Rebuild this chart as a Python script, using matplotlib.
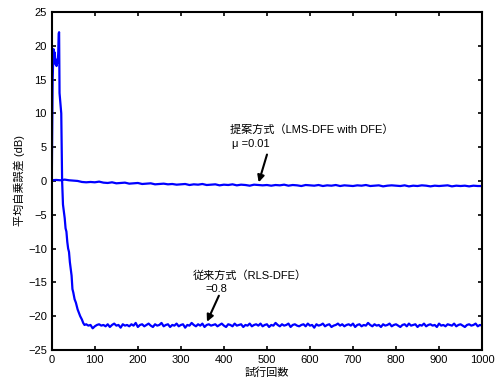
import numpy as np
import matplotlib
matplotlib.use('Agg')
from matplotlib import pyplot as plt

plt.rcParams['font.family'] = ['Liberation Sans', 'Noto Sans CJK JP']
plt.rcParams['font.size'] = 8

# RLS-DFE (conventional) - start transient
rls_x_head = [0, 1, 2, 3, 4, 5, 6, 7, 8, 9, 10, 11, 12, 13, 14, 15, 16, 17, 18, 20,
              22, 23, 24, 26, 28, 30, 32, 34, 36, 38, 40, 42, 44, 46, 48, 50, 53, 56,
              60, 63, 66, 70, 73, 76]
rls_y_head = [0, 8, 15, 17.5, 19.5, 18.5, 17.5, 19.0, 17.8, 17.2, 17.5, 17.0, 17.3, 18,
              17.5, 19, 21.8, 22, 13, 11.5, 10, 5, 0, -3.5, -4.5, -5.5, -7, -7.5, -9,
              -10, -10.5, -12, -13, -14, -16, -16.5, -17.5, -18, -19, -19.5, -20, -20.5,
              -21, -21.3]
# RLS-DFE steady state, trials 80..1000 every 5
rls_y_tail = [
    -21.2, -21.4, -21.3, -21.8, -21.5, -21.3, -21.2, -21.4, -21.3, -21.5, -21.2, -21.6, -21.3, -21.1, -21.4, -21.3, -21.7, -21.2, -21.4, -21.3,
    -21.5, -21.2, -21.4, -21.0, -21.6, -21.3, -21.2, -21.5, -21.3, -21.1, -21.4, -21.6, -21.2, -21.4, -21.3, -21.0, -21.5, -21.3, -21.2, -21.6,
    -21.3, -21.4, -21.1, -21.5, -21.3, -21.2, -21.7, -21.3, -21.4, -21.0, -21.3, -21.5, -21.2, -21.4, -21.1, -21.6, -21.3, -21.2, -21.4, -21.3,
    -21.2, -21.5, -21.3, -21.1, -21.4, -21.6, -21.2, -21.3, -21.5, -21.1, -21.4, -21.3, -21.2, -21.6, -21.3, -21.4, -21.1, -21.5, -21.3, -21.2,
    -21.4, -21.1, -21.5, -21.3, -21.2, -21.6, -21.3, -21.4, -21.0, -21.3, -21.5, -21.2, -21.4, -21.3, -21.1, -21.6, -21.3, -21.2, -21.4, -21.5,
    -21.3, -21.2, -21.5, -21.1, -21.4, -21.3, -21.7, -21.2, -21.4, -21.3, -21.1, -21.5, -21.3, -21.2, -21.6, -21.4, -21.3, -21.1, -21.4, -21.2,
    -21.5, -21.3, -21.2, -21.4, -21.1, -21.6, -21.3, -21.2, -21.5, -21.3, -21.4, -21.0, -21.3, -21.5, -21.2, -21.4, -21.3, -21.6, -21.2, -21.4,
    -21.3, -21.1, -21.5, -21.3, -21.2, -21.4, -21.6, -21.3, -21.2, -21.5, -21.1, -21.4, -21.3, -21.2, -21.6, -21.3, -21.4, -21.1, -21.5, -21.3,
    -21.2, -21.4, -21.3, -21.6, -21.1, -21.4, -21.3, -21.5, -21.2, -21.3, -21.4, -21.1, -21.5, -21.3, -21.2, -21.4, -21.6, -21.3, -21.2, -21.4,
    -21.3, -21.1, -21.5, -21.3, -21.4]
rls_x = rls_x_head + list(range(80, 1001, 5))
rls_y = rls_y_head + rls_y_tail

# LMS-DFE (proposed), trials 0..1000 every 10
lms_y = [
    0.1, 0.15, 0.1, 0.2, 0.1, 0.05, 0.0, -0.15, -0.2, -0.15,
    -0.2, -0.1, -0.25, -0.3, -0.2, -0.35, -0.3, -0.25, -0.4, -0.35,
    -0.3, -0.45, -0.4, -0.35, -0.5, -0.45, -0.4, -0.5, -0.45, -0.55,
    -0.5, -0.45, -0.6, -0.5, -0.55, -0.45, -0.6, -0.55, -0.5, -0.65,
    -0.55, -0.6, -0.5, -0.65, -0.55, -0.6, -0.7, -0.55, -0.6, -0.65,
    -0.6, -0.7, -0.6, -0.65, -0.55, -0.7, -0.6, -0.65, -0.75, -0.6,
    -0.65, -0.7, -0.6, -0.75, -0.65, -0.7, -0.6, -0.75, -0.65, -0.7,
    -0.75, -0.65, -0.7, -0.6, -0.75, -0.7, -0.65, -0.8, -0.7, -0.65,
    -0.7, -0.75, -0.65, -0.8, -0.7, -0.75, -0.65, -0.7, -0.8, -0.7,
    -0.75, -0.7, -0.65, -0.8, -0.7, -0.75, -0.7, -0.8, -0.7, -0.75,
    -0.75]
lms_x = list(range(0, 1001, 10))

fig = plt.figure(figsize=(4.98, 3.85), dpi=100)
ax = fig.add_axes([0.104, 0.091, 0.864, 0.878])
ax.plot(rls_x, rls_y, color='#0000ff', lw=1.6)
ax.plot(lms_x, lms_y, color='#0000ff', lw=1.6)

ax.set_xlim(0, 1000)
ax.set_ylim(-25, 25)
ax.set_xticks(range(0, 1001, 100))
ax.set_yticks(range(-25, 26, 5))
ax.tick_params(direction='in', top=True, right=True, length=3, width=1.2, labelsize=8)
for s in ax.spines.values():
    s.set_linewidth(1.5)

ax.set_xlabel('試行回数', fontsize=8, labelpad=2)
ax.set_ylabel('平均自乗誤差 (dB)', fontsize=8, labelpad=2)

ax.text(414, 7.1, '提案方式（LMS-DFE with DFE）', fontsize=8)
ax.text(419, 5.0, 'μ =0.01', fontsize=8)
ax.annotate('', xy=(479, -0.6), xytext=(502, 4.3),
            arrowprops=dict(arrowstyle='-|>', color='k', lw=1.5, mutation_scale=10))

ax.text(328, -14.5, '従来方式（RLS-DFE）', fontsize=8)
ax.text(356, -16.4, '=0.8', fontsize=8)
ax.annotate('', xy=(358, -21.2), xytext=(391, -16.6),
            arrowprops=dict(arrowstyle='-|>', color='k', lw=1.5, mutation_scale=10))

fig.savefig('out.png', dpi=100)
